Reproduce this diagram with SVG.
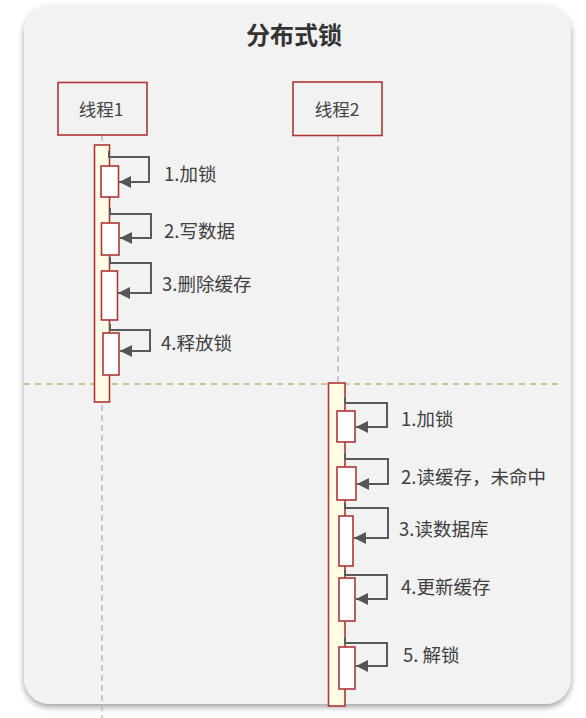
<svg xmlns="http://www.w3.org/2000/svg" width="586" height="718" viewBox="0 0 586 718">
  <defs>
    <filter id="shadow" x="-5%" y="-5%" width="110%" height="110%">
      <feDropShadow dx="0" dy="3" stdDeviation="3" flood-color="#000" flood-opacity="0.38"/>
    </filter>
    <marker id="arrow" markerUnits="userSpaceOnUse" markerWidth="12" markerHeight="12" viewBox="0 0 10 10" refX="10" refY="5" orient="auto">
      <path d="M0,0 L10,5 L0,10 z" fill="#555"/>
    </marker>
  </defs>
  <style>
    .txt { font-family: "Noto Sans CJK SC", "Liberation Sans", sans-serif; fill: #404040; }
    .title { font-size: 24px; font-weight: bold; fill: #333; }
    .actor { fill: none; stroke: #b03535; stroke-width: 1.6; }
    .actorTxt { font-size: 17.5px; fill: #444; }
    .lbl { font-size: 18.5px; fill: #404040; }
    .life { stroke: #bbbbbb; stroke-width: 1.5; stroke-dasharray: 6 4; fill: none; }
    .bar { fill: #fffde3; stroke: #b03535; stroke-width: 1.6; }
    .act { fill: #ffffff; stroke: #b03535; stroke-width: 1.6; }
    .msg { fill: none; stroke: #5a5a5a; stroke-width: 2; marker-end: url(#arrow); }
    .sep { stroke: #b7ba72; stroke-width: 1.5; stroke-dasharray: 6 5; }
  </style>
  <rect x="0" y="0" width="586" height="718" fill="#ffffff"/>
  <rect id="panel" x="24" y="6" width="547" height="698" rx="26" ry="26" fill="#f2f2f2" filter="url(#shadow)"/>
  <text id="title" class="txt title" x="294" y="44" text-anchor="middle">分布式锁</text>

  <g id="lifelines">
    <line class="life" x1="102" y1="135" x2="102" y2="718"/>
    <line class="life" x1="338" y1="136" x2="338" y2="383"/>
  </g>

  <line id="separator" class="sep" x1="24" y1="384" x2="560" y2="384"/>

  <g id="thread1">
    <rect class="actor" x="58" y="82.5" width="89" height="52.5"/>
    <text class="txt actorTxt" x="101" y="116" text-anchor="middle">线程1</text>
  </g>
  <g id="thread2">
    <rect class="actor" x="293" y="82" width="89" height="53.5"/>
    <text class="txt actorTxt" x="337" y="116" text-anchor="middle">线程2</text>
  </g>

  <g id="bar1">
    <rect class="bar" x="94.5" y="145" width="15" height="257"/>
    <rect class="act" x="101" y="166" width="17.5" height="31"/>
    <rect class="act" x="101.5" y="223" width="17.5" height="32"/>
    <rect class="act" x="101.5" y="271" width="16" height="49"/>
    <rect class="act" x="103" y="333" width="16" height="42"/>
  </g>
  <g id="bar2">
    <rect class="bar" x="328.5" y="383" width="16.5" height="323"/>
    <rect class="act" x="337" y="411" width="18" height="31"/>
    <rect class="act" x="337" y="467" width="19" height="33"/>
    <rect class="act" x="339" y="516" width="14" height="50"/>
    <rect class="act" x="339" y="578" width="16" height="43"/>
    <rect class="act" x="339" y="647" width="16" height="42"/>
  </g>

  <g id="connectors">
    <path class="msg" d="M109,151 V157 H149 V182 H119"/>
    <path class="msg" d="M110,208 V214 H151 V238 H120"/>
    <path class="msg" d="M110,257 V263 H151 V293 H118"/>
    <path class="msg" d="M110,324 V330 H150 V351 H120"/>
    <path class="msg" d="M345,398 V403 H387 V427 H356"/>
    <path class="msg" d="M345,454 V459 H388 V484 H357"/>
    <path class="msg" d="M345,503 V508 H388 V538 H354"/>
    <path class="msg" d="M345,570 V575 H387 V599 H356"/>
    <path class="msg" d="M345,638 V643 H387 V666 H356"/>
  </g>

  <g id="labels">
    <text class="txt lbl" x="164" y="180.5">1.加锁</text>
    <text class="txt lbl" x="164" y="237.5">2.写数据</text>
    <text class="txt lbl" x="162" y="290.5">3.删除缓存</text>
    <text class="txt lbl" x="161" y="349.5">4.释放锁</text>
    <text class="txt lbl" x="401" y="425.5">1.加锁</text>
    <text class="txt lbl" x="401" y="483.5">2.读缓存，未命中</text>
    <text class="txt lbl" x="399" y="535.5">3.读数据库</text>
    <text class="txt lbl" x="401" y="593.5">4.更新缓存</text>
    <text class="txt lbl" x="403" y="661.5">5. 解锁</text>
  </g>
</svg>
